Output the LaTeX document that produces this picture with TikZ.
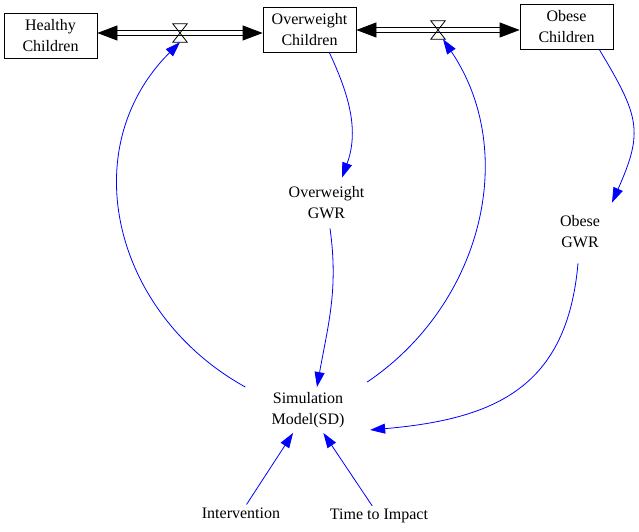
\documentclass[tikz,border=0pt]{standalone}
\usepackage{fontspec}
\setmainfont{Liberation Serif}
\usetikzlibrary{positioning,calc,arrows.meta}

\begin{document}
\begin{tikzpicture}[
    x=1pt, y=1pt,
    font=\fontsize{16}{21}\selectfont,
    stock/.style={rectangle, draw, line width=0.8pt, minimum width=93pt, minimum height=45pt, align=center, inner sep=2pt},
    aux/.style={align=center, inner sep=9pt},
    valve/.style={minimum width=14pt, minimum height=18pt, inner sep=0pt},
    flow/.style={double, double distance=4pt, line width=0.8pt, >={Triangle[length=20pt,width=15pt]}, <->},
    link/.style={draw=blue, line width=0.8pt, -{Triangle[length=15pt,width=10pt,fill=blue]}}
]
\useasboundingbox (0,0) rectangle (639,531);

% stocks
\node[stock] (healthy) at (50.5,495.5) {Healthy\\Children};
\node[stock] (over) at (309.5,501) {Overweight\\Children};
\node[stock] (obese) at (566.5,504) {Obese\\Children};

% valves
\node[valve] (v1) at (180,498) {};
\node[valve] (v2) at (438,501) {};

% auxiliaries
\node[aux] (owgwr) at (326.5,328) {Overweight\\GWR};
\node[aux] (obgwr) at (580,299) {Obese\\GWR};
\node[aux, inner sep=5pt] (sim) at (308,121) {Simulation\\Model(SD)};
\node[aux, inner sep=3pt] (interv) at (241,18) {Intervention};
\node[aux, inner sep=3pt] (time) at (379,15) {Time to Impact};

% flows
\draw[flow] (healthy.east |- v1) -- (over.west |- v1);
\draw[flow] (over.east |- v2) -- (obese.west |- v2);
\foreach \v in {v1,v2}
  \draw[line width=0.8pt] (\v.north west) -- (\v.north east) -- (\v.south west) -- (\v.south east) -- cycle;

% links
\draw[link] ([xshift=20pt]over.south) to[out=-65, in=70] ([xshift=15.5pt]owgwr.north);
\draw[link] ([xshift=33pt]obese.south) to[out=-59, in=66, looseness=1.3] ([xshift=32pt,yshift=4pt]obgwr.north);
\draw[link] ([xshift=3.5pt]owgwr.south) to[out=-82, in=80] ([xshift=9pt]sim.north);
\draw[link] ([xshift=-2pt,yshift=-6pt]obgwr.south) to[out=-95, in=5, looseness=1.2] ([xshift=20.5pt,yshift=3pt]sim.south east);
\draw[link] ([xshift=-21pt]sim.north west) to[out=151, in=-135, looseness=1.1] (v1.south);
\draw[link] ([xshift=17.5pt,yshift=5pt]sim.north east) to[out=34, in=-56] ([xshift=5pt]v2.south);
\draw[link] (interv) -- (sim);
\draw[link] (time) -- (sim);
\end{tikzpicture}
\end{document}
